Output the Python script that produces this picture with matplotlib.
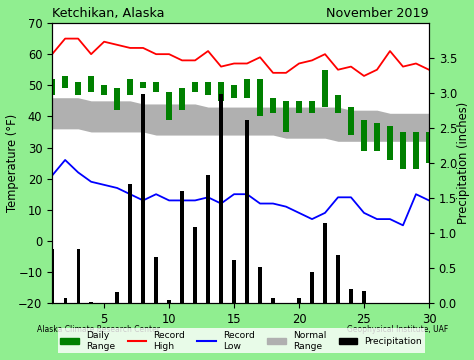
import matplotlib
matplotlib.use("Agg")
import matplotlib.pyplot as plt
import matplotlib.patches as mpatches
import matplotlib.lines as mlines
import numpy as np

days = np.arange(1, 31)

record_high = [60, 65, 65, 60, 64, 63, 62, 62, 60, 60, 58, 58, 61, 56, 57,
               57, 59, 54, 54, 57, 58, 60, 55, 56, 53, 55, 61, 56, 57, 55]
record_low = [21, 26, 22, 19, 18, 17, 15, 13, 15, 13, 13, 13, 14, 12, 15,
              15, 12, 12, 11, 9, 7, 9, 14, 14, 9, 7, 7, 5, 15, 13]
normal_high = [46, 46, 46, 45, 45, 45, 45, 44, 44, 44, 44, 44, 43, 43, 43,
               43, 43, 43, 43, 43, 43, 43, 43, 42, 42, 42, 41, 41, 41, 41]
normal_low = [36, 36, 36, 35, 35, 35, 35, 35, 34, 34, 34, 34, 34, 34, 34,
              34, 34, 34, 33, 33, 33, 33, 32, 32, 32, 32, 32, 32, 32, 32]
daily_high = [52, 53, 51, 53, 50, 49, 52, 51, 51, 48, 49, 51, 51, 51, 50,
              52, 52, 46, 45, 45, 45, 55, 47, 43, 39, 38, 37, 35, 35, 35]
daily_low = [47, 49, 47, 48, 47, 42, 47, 49, 48, 39, 42, 48, 47, 45, 46,
             46, 40, 41, 35, 41, 41, 43, 41, 34, 29, 29, 26, 23, 23, 25]
precip = [0.77, 0.08, 0.77, 0.02, 0.0, 0.16, 1.70, 2.99, 0.66, 0.04,
          1.60, 1.09, 1.83, 2.98, 0.61, 2.62, 0.52, 0.07, 0.0, 0.07,
          0.44, 1.15, 0.69, 0.20, 0.18, 0.0, 0.0, 0.0, 0.0, 0.0]

plt.rcParams["font.size"] = 8.3

fig = plt.figure(figsize=(4.74, 3.6), dpi=100, facecolor="lightgreen")
ax = fig.add_axes([0.110, 0.158, 0.795, 0.778])
ax.set_facecolor("white")

ax.fill_between(days, normal_low, normal_high, color="#b0b0b0", lw=0)
ax.plot(days, record_high, color="red", lw=1.3)
ax.plot(days, record_low, color="blue", lw=1.3)
lows = np.array(daily_low)
highs = np.array(daily_high)
ax.bar(days, highs - lows, bottom=lows, width=0.5, color="green")

ax.set_xlim(1, 30)
ax.set_ylim(-20, 70)
ax.set_xticks([5, 10, 15, 20, 25, 30])
ax.set_yticks(range(-20, 71, 10))
ax.set_ylabel("Temperature (°F)", labelpad=-0.5)
ax.set_title("Ketchikan, Alaska", loc="left", fontsize=9.2, pad=4)
ax.set_title("November 2019", loc="right", fontsize=9.2, pad=4)

ax2 = ax.twinx()
ax2.bar(days, precip, width=0.25, color="black")
ax2.set_ylim(0, 4)
ax2.set_yticks(np.arange(0, 3.6, 0.5))
ax2.set_ylabel("Precipitation (inches)", labelpad=0)

fig.text(0.078, 0.086, "Alaska Climate Research Center", fontsize=5.5,
         va="center")
fig.text(0.945, 0.086, "Geophysical Institute, UAF", fontsize=5.5,
         ha="right", va="center")

handles = [
    mpatches.Patch(color="green", label="Daily\nRange"),
    mlines.Line2D([], [], color="red", label="Record\nHigh"),
    mlines.Line2D([], [], color="blue", label="Record\nLow"),
    mpatches.Patch(color="#b0b0b0", label="Normal\nRange"),
    mpatches.Patch(color="black", label="Precipitation"),
]
fig.legend(handles=handles, loc="center", bbox_to_anchor=(0.509, 0.053),
           ncol=5, fontsize=6.6, frameon=True, framealpha=0.8,
           edgecolor="none", fancybox=False, columnspacing=1.35,
           handletextpad=0.8, borderpad=0.3, labelspacing=0.3)

fig.savefig("out.png", dpi=100, facecolor=fig.get_facecolor())
